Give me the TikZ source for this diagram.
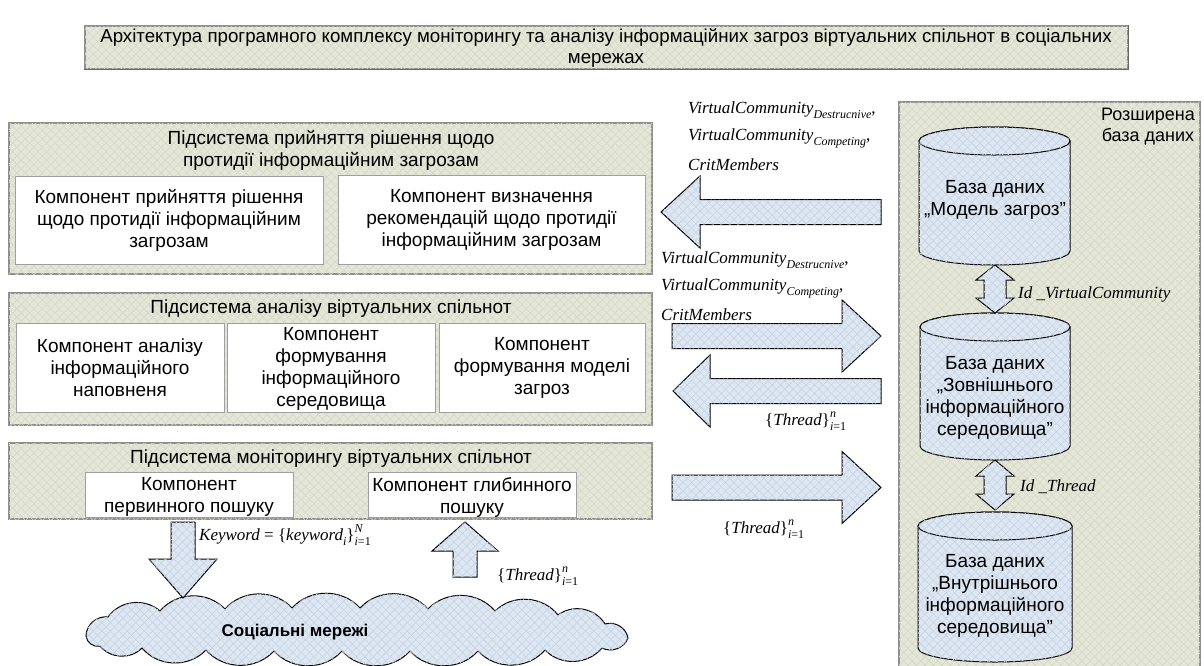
\documentclass[tikz,border=0pt]{standalone}
\usepackage{fontspec}
\setmainfont{Liberation Sans}
\newfontfamily\tms{Liberation Serif}
\usetikzlibrary{patterns.meta,fit}

\definecolor{olivebg}{HTML}{E4E6D7}
\definecolor{olivehatch}{HTML}{D6D9C6}
\definecolor{bluebg}{HTML}{DDE7F3}
\definecolor{bluehatch}{HTML}{C8D3E2}
\definecolor{framegray}{HTML}{8F8F8F}

\newcommand\mainsz{\fontsize{19}{22}\selectfont}
\newcommand\titlesz{\fontsize{18.7}{20.5}\selectfont}
\newcommand\labelsz{\tms\itshape\fontsize{17}{20}\selectfont}
\newcommand\smallsz{\fontsize{12}{14}\selectfont}
\newcommand\lsub[1]{\raisebox{-5pt}{\smallsz #1}}
\newcommand\lsup[1]{\raisebox{8pt}{\smallsz #1}}
\newcommand\idx[2]{\rlap{\lsup{#1}}\lsub{#2}}
\newcommand\vcom[1]{VirtualCommunity\lsub{#1}\upshape,}
\newcommand\threadset{\upshape\{\itshape Thread\upshape\}\idx{\itshape n}{\itshape i\upshape =1}}

\tikzset{
  hatch/.style={
    postaction={pattern={Lines[angle=45,distance=6pt,line width=0.6pt]},pattern color=#1},
    postaction={pattern={Lines[angle=-45,distance=6pt,line width=0.6pt]},pattern color=#1}},
  panel/.style={draw=framegray,line width=1.3pt,fill=olivebg,hatch=olivehatch,inner sep=0pt},
  comp/.style={draw=framegray!85,line width=1pt,fill=white,inner sep=0pt},
  blk/.style={draw=black,line width=1pt,fill=bluebg,hatch=bluehatch,line join=miter},
  txt/.style={align=center,font=\mainsz,inner sep=0pt},
  lbl/.style={font=\labelsz,anchor=base west,inner sep=0pt},
  puff/.style={bend left=48},
}

% cylinder: x1, x2, top, bottom (ellipse half-height 14)
\newcommand\dbcyl[4]{%
  \pgfmathsetmacro\cx{(#1+#2)/2}%
  \pgfmathsetmacro\rx{(#2-#1)/2}%
  \pgfmathsetmacro\yt{#3+14}%
  \pgfmathsetmacro\yb{#4-14}%
  \path[blk] (#1,\yt) -- (#1,\yb) arc[start angle=180,end angle=0,x radius=\rx,y radius=14]
    -- (#2,\yt) arc[start angle=0,end angle=-180,x radius=\rx,y radius=14] -- cycle;
  \path[blk] (\cx,\yt) ellipse[x radius=\rx,y radius=14];
}

\begin{document}
\begin{tikzpicture}[x=1pt,y=-1pt]
\useasboundingbox (0,0) rectangle (1204,665);

% title
\node[panel,fit={(85,26)(1128,69)}] (title) {};
\draw[line width=1.6pt,black!60] (title.south west) -- (title.south east) -- (title.north east);
\node[txt,font=\titlesz] (titletext) at (606,48)
  {Архітектура програмного комплексу моніторингу та аналізу інформаційних загроз віртуальних спільнот в соціальних\\мережах};

% decision subsystem
\node[panel,fit={(9,123)(652,274)}] (s1) {};
\node[txt] (s1head) at (331,150.5) {Підсистема прийняття рішення щодо\\протидії інформаційним загрозам};
\node[comp,fit={(15,176)(323,264)}] (s1a) {};
\node[txt] (s1atext) at (s1a.center) {Компонент прийняття рішення\\щодо протидії інформаційним\\загрозам};
\node[comp,fit={(338,175)(645,264)}] (s1b) {};
\node[txt] (s1btext) at (s1b.center) {Компонент визначення\\рекомендацій щодо протидії\\інформаційним загрозам};

% analysis subsystem
\node[panel,fit={(9,293)(652,425)}] (s2) {};
\node[txt] (s2head) at (331,309) {Підсистема аналізу віртуальних спільнот};
\node[comp,fit={(16,323)(224,412)}] (s2a) {};
\node[txt] (s2atext) at (s2a.center) {Компонент аналізу\\інформаційного\\наповненя};
\node[comp,fit={(227,323)(435,412)}] (s2b) {};
\node[txt] (s2btext) at ([yshift=-1pt]s2b.center) {Компонент\\формування\\інформаційного\\середовища};
\node[comp,fit={(439,323)(645,412)}] (s2c) {};
\node[txt] (s2ctext) at (s2c.center) {Компонент\\формування моделі\\загроз};

% monitoring subsystem
\node[panel,fit={(9,443)(652,519)}] (s3) {};
\node[txt] (s3head) at (331,458.5) {Підсистема моніторингу віртуальних спільнот};
\node[comp,fit={(85,472)(293,517)}] (s3a) {};
\node[txt] (s3atext) at ([yshift=-2.5pt]s3a.center) {Компонент\\первинного пошуку};
\node[comp,fit={(368,472)(576,517)}] (s3b) {};
\node[txt] (s3btext) at ([yshift=-2.5pt]s3b.center) {Компонент глибинного\\пошуку};

% extended database panel
\node[panel,fit={(899,102)(1200,670)}] (dbpanel) {};
\node[txt,font=\fontsize{18}{21}\selectfont] (dbtitle) at (1148,127) {Розширена\\база даних};

% databases
\dbcyl{919}{1070}{127}{265}
\node[txt] (db1) at (995,200) {База даних\\„Модель загроз”};
\dbcyl{920}{1070}{313}{460}
\node[txt] (db2) at (995,398) {База даних\\„Зовнішнього\\інформаційного\\середовища”};
\dbcyl{918}{1072}{512}{662}
\node[txt] (db3) at (995,596) {База даних\\„Внутрішнього\\інформаційного\\середовища”};

% links between databases
\path[blk] (995,265) -- (1014,280) -- (1006,280) -- (1006,298) -- (1014,298) -- (995,313)
  -- (976,298) -- (984,298) -- (984,280) -- (976,280) -- cycle;
\path[blk] (995,460) -- (1014,476) -- (1006,476) -- (1006,494) -- (1014,494) -- (995,510)
  -- (976,494) -- (984,494) -- (984,476) -- (976,476) -- cycle;
\node[lbl] (idvc) at (1018,298) {Id \_VirtualCommunity};
\node[lbl] (idth) at (1020,491) {Id \_Thread};

% flows between subsystems and databases
\path[blk] (661,212) -- (700,176) -- (700,199.5) -- (881,199.5) -- (881,224.5) -- (700,224.5) -- (700,248) -- cycle;
\path[blk] (881,336) -- (842,300) -- (842,323.5) -- (672,323.5) -- (672,348.5) -- (842,348.5) -- (842,372) -- cycle;
\path[blk] (673,391) -- (710,355) -- (710,378.5) -- (881,378.5) -- (881,403.5) -- (710,403.5) -- (710,427) -- cycle;
\path[blk] (881,487.5) -- (842,451.5) -- (842,475) -- (672,475) -- (672,500) -- (842,500) -- (842,523.5) -- cycle;

\node[lbl] (g1a) at (688,113) {\vcom{Destrucnive}};
\node[lbl] (g1b) at (688,140) {\vcom{Competing}};
\node[lbl] (g1c) at (688,170) {CritMembers};
\node[lbl] (g2a) at (661,263) {\vcom{Destrucnive}};
\node[lbl] (g2b) at (661,290) {\vcom{Competing}};
\node[lbl] (g2c) at (661,320) {CritMembers};
\node[lbl] (th2) at (765,425) {\threadset};
\node[lbl] (th3) at (723,533) {\threadset};

% social networks cloud
\path[blk] (86,636) to[puff] (108,617) to[puff] (160,611) to[puff] (225,609) to[puff] (292,608)
  to[puff] (360,608) to[puff] (428,609) to[puff] (495,611) to[puff] (558,615) to[puff] (605,624)
  to[puff] (628,638) to[puff] (602,648) to[puff] (545,650) to[puff] (478,651) to[puff] (410,651)
  to[puff] (342,651) to[puff] (274,651) to[puff] (206,650) to[puff] (142,648) to[puff] (100,646)
  to[puff] (86,636) -- cycle;
\node[txt,font=\fontsize{17}{20}\selectfont\bfseries] (nettext) at (295,632) {Соціальні мережі};

\path[blk] (171,522) -- (195,522) -- (195,559) -- (217,559) -- (183,598) -- (149,559) -- (171,559) -- cycle;
\path[blk] (465,522) -- (498,551) -- (477,551) -- (477,577) -- (453,577) -- (453,551) -- (432,551) -- cycle;
\node[lbl] (kw) at (199,540) {Keyword \upshape= \{\itshape keyword\lsub{i}\upshape\}\idx{\itshape N}{\itshape i\upshape =1}};
\node[lbl] (th1) at (497,580) {\threadset};
\end{tikzpicture}
\end{document}
